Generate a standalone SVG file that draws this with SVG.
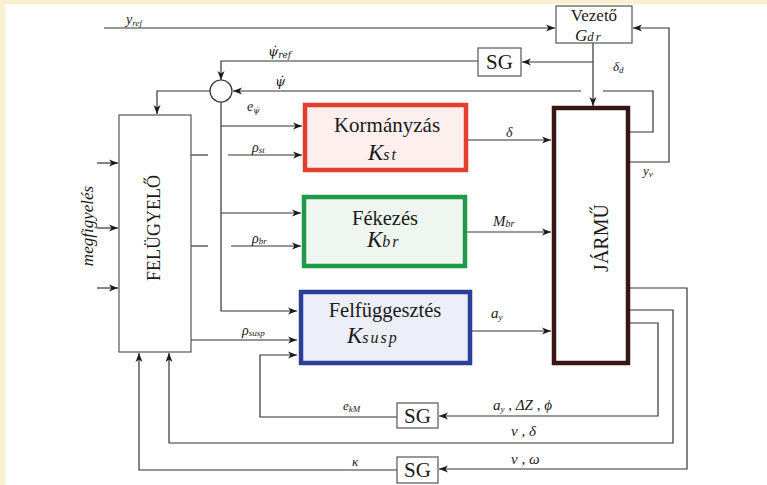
<svg xmlns="http://www.w3.org/2000/svg" width="767" height="485" viewBox="0 0 767 485">
<defs>
<marker id="arr" markerWidth="10" markerHeight="8" refX="9" refY="4" orient="auto" markerUnits="userSpaceOnUse">
<path d="M0,0.5 L9,4 L0,7.5 L2.5,4 z" fill="#1a1a1a"/>
</marker>
</defs>
<style>
.ln{fill:none;stroke:#333;stroke-width:1.2}
.ar{fill:none;stroke:#333;stroke-width:1.2;marker-end:url(#arr)}
.bx{fill:#fff;stroke:#555;stroke-width:1.2}
.t{font-family:"Liberation Serif","Times New Roman",serif;fill:#1a1a1a}
.m{font-family:"Liberation Serif","Times New Roman",serif;font-style:italic;fill:#1a1a1a;font-size:13px}
.p{font-family:"DejaVu Serif",serif;font-style:italic;fill:#1a1a1a;font-size:12px}
.s{font-size:9px}
.big{font-size:21px}
.k{font-family:"Liberation Serif","Times New Roman",serif;font-style:italic;fill:#1a1a1a;font-size:23px}
.ks{font-size:16px;letter-spacing:2px}
</style>
<rect x="0" y="0" width="767" height="485" fill="#f9f0d0"/>
<rect x="5" y="4" width="762" height="481" fill="#fff"/>

<g id="connectors">
<path class="ar" d="M104,28 H555"/>
<path class="ar" d="M630,162 H669 V28 H633"/>
<path class="ar" d="M593,43 V106"/>
<path class="ar" d="M593,62 H522"/>
<path class="ar" d="M478,61 H221 V80"/>
<path class="ln" d="M630,132 H653 V91 H603"/>
<path class="ar" d="M581,91 H233"/>
<path class="ar" d="M210,91 H157 V114"/>
<path class="ar" d="M221,102 V311 H297"/>
<path class="ar" d="M221,126 H302"/>
<path class="ar" d="M221,213 H301"/>
<path class="ln" d="M191,155 H208"/>
<path class="ar" d="M228,155 H302"/>
<path class="ln" d="M191,246 H208"/>
<path class="ar" d="M231,246 H301"/>
<path class="ar" d="M191,340 H297"/>
<path class="ar" d="M397,417 H260 V355 H297"/>
<path class="ar" d="M468,140 H551"/>
<path class="ar" d="M467,232 H551"/>
<path class="ar" d="M472,331 H551"/>
<path class="ar" d="M630,323 H658 V416 H439"/>
<path class="ar" d="M630,310 H673 V443 H169 V353"/>
<path class="ar" d="M630,288 H687 V469 H439"/>
<path class="ar" d="M397,470 H139 V353"/>
<path class="ar" d="M97,163 H118"/>
<path class="ar" d="M97,228 H118"/>
<path class="ar" d="M97,288 H118"/>
</g>

<g id="labels">
<text class="m" x="126" y="24" style="font-size:14px">y<tspan class="s" dy="2">ref</tspan></text>
<text class="p" x="268" y="56" style="font-size:13px">ψ̇<tspan class="s" dy="2">ref</tspan></text>
<text class="p" x="275" y="86" style="font-size:13px">ψ̇</text>
<text class="m" x="247" y="111" style="font-size:14px">e<tspan class="p" style="font-size:8px" dy="2">ψ̇</tspan></text>
<text class="m" x="252" y="152" style="font-size:14px">ρ<tspan class="s" dy="1">st</tspan></text>
<text class="m" x="252" y="243" style="font-size:14px">ρ<tspan class="s" dy="1">br</tspan></text>
<text class="m" x="242" y="335" style="font-size:14px">ρ<tspan class="s" dy="1">susp</tspan></text>
<text class="m" x="506" y="137" style="font-size:14px">δ</text>
<text class="m" x="493" y="226" style="font-size:15px">M<tspan class="s" style="font-size:10px" dy="1">br</tspan></text>
<text class="m" x="491" y="318" style="font-size:15px">a<tspan class="s" dy="2">y</tspan></text>
<text class="m" x="613" y="71">δ<tspan class="s" dy="2">d</tspan></text>
<text class="m" x="643" y="175">y<tspan class="s" dy="2">v</tspan></text>
<text class="m" x="493" y="410" style="font-size:15px">a<tspan class="s" dy="2">y</tspan><tspan dy="-2"> , ΔZ , ϕ</tspan></text>
<text class="m" x="511" y="436" style="font-size:15px">v , δ</text>
<text class="m" x="511" y="464" style="font-size:15px">v , ω</text>
<text class="m" x="352" y="466">κ</text>
<text class="m" x="343" y="410">e<tspan class="s" dy="2">kM</tspan></text>
<text class="t" font-style="italic" font-size="17" transform="translate(93,226) rotate(-90)" text-anchor="middle">megfigyelés</text>
</g>

<g id="vezeto">
<rect class="bx" x="556" y="6" width="76" height="37"/>
<text class="t" x="594" y="21" font-size="17" text-anchor="middle">Vezető</text>
<text class="t" x="575" y="41" font-style="italic" font-size="17">G<tspan font-size="13" letter-spacing="2">dr</tspan></text>
</g>

<g id="sg1">
<rect class="bx" x="478" y="48" width="43" height="28"/>
<text class="t big" x="499.5" y="69" text-anchor="middle">SG</text>
</g>

<g id="sum">
<circle cx="221" cy="91" r="11" fill="#fff" stroke="#333" stroke-width="1.2"/>
</g>

<g id="felugyelo">
<rect class="bx" x="119" y="115" width="72" height="237" stroke="#333"/>
<text class="t" font-size="18" transform="translate(160,228) rotate(-90)" text-anchor="middle">FELÜGYELŐ</text>
</g>

<g id="kormanyzas">
<rect x="305" y="105" width="161" height="65" fill="#fcefed" stroke="#e2402d" stroke-width="4.5"/>
<text class="t big" x="387" y="132" text-anchor="middle">Kormányzás</text>
<text class="k" x="368" y="160">K<tspan class="ks">st</tspan></text>
</g>

<g id="fekezes">
<rect x="304" y="197" width="161" height="69" fill="#eef6ef" stroke="#1f9a4b" stroke-width="4.5"/>
<text class="t" x="385" y="225" font-size="20.5" text-anchor="middle">Fékezés</text>
<text class="k" x="367" y="247">K<tspan class="ks">br</tspan></text>
</g>

<g id="felfuggesztes">
<rect x="301" y="292" width="169" height="71" fill="#eceef8" stroke="#2b3f98" stroke-width="4.5"/>
<text class="t" x="385" y="317" font-size="20.5" text-anchor="middle">Felfüggesztés</text>
<text class="k" x="347" y="343">K<tspan class="ks">susp</tspan></text>
</g>

<g id="jarmu">
<rect x="554" y="108" width="74" height="255" fill="#fff" stroke="#3b1414" stroke-width="4.5"/>
<text class="t" font-size="20" transform="translate(608,238) rotate(-90)" text-anchor="middle">JÁRMŰ</text>
</g>

<g id="sg2">
<rect class="bx" x="397" y="403" width="41" height="25"/>
<text class="t big" x="417.5" y="423" text-anchor="middle">SG</text>
</g>

<g id="sg3">
<rect class="bx" x="397" y="457" width="41" height="26"/>
<text class="t big" x="417.5" y="477" text-anchor="middle">SG</text>
</g>
</svg>
